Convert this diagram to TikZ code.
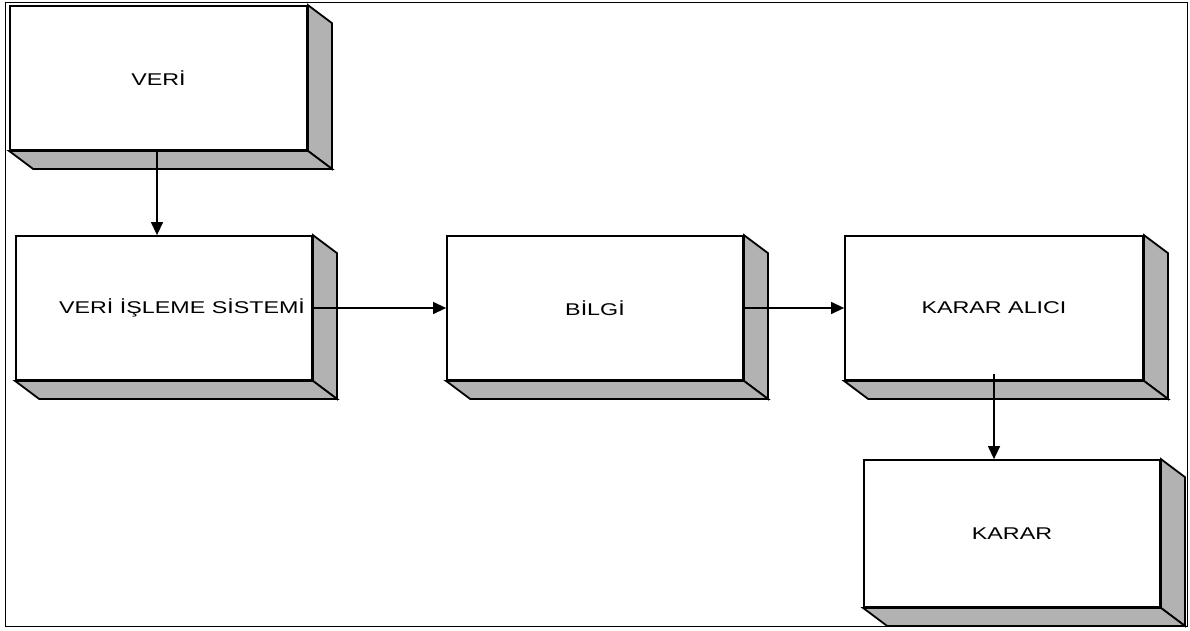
\documentclass[tikz,border=0pt]{standalone}
\usepackage{fontspec}
\setmainfont{Liberation Sans}
\newfontfamily\kutufont[FakeStretch=1.37]{Liberation Sans}
\usetikzlibrary{arrows.meta}

\tikzset{
    kutu/.style={rectangle, draw, line width=1.8pt, fill=white, minimum width=296pt, minimum height=144pt, inner sep=0pt, font=\kutufont\fontsize{17}{20}\selectfont},
    golge/.style={draw, line width=1.8pt, fill=black!30, line join=miter},
    ok/.style={-{Triangle[length=13pt,width=12pt]}, line width=1.3pt}
}

\begin{document}
\begin{tikzpicture}[x=1pt, y=-1pt]

\useasboundingbox (0,0) rectangle (1190,630);

% Frame
\draw[line width=0.8pt] (5,2) rectangle (1187,626);

% Boxes
\node[kutu, minimum width=297pt] (veri) at (158.5, 78) {VERİ};
\node[kutu] (isleme) at (164, 308) {\hspace*{36pt}VERİ İŞLEME SİSTEMİ};
\node[kutu] (bilgi) at (595, 308) {BİLGİ};
\node[kutu, minimum width=298pt] (alici) at (994, 308) {KARAR ALICI};
\node[kutu, minimum height=147pt] (karar) at (1012, 533.5) {KARAR};

% Depth faces
\foreach \k in {veri, isleme, bilgi, alici, karar} {
    \draw[golge] (\k.north east) -- ++(24,18) -- ([shift={(24,18)}]\k.south east) -- (\k.south east) -- cycle;
    \draw[golge] (\k.south west) -- ++(24,18) -- ([shift={(24,18)}]\k.south east) -- (\k.south east) -- cycle;
}

% Arrows
\draw[ok] ([xshift=-1.5pt]veri.south) -- ([xshift=-1.5pt]veri.south |- isleme.north);
\draw[ok] (isleme.east) -- (bilgi.west);
\draw[ok] (bilgi.east) -- (alici.west);
\draw[ok] ([yshift=7pt]alici.south) -- (alici.south |- karar.north);

\end{tikzpicture}
\end{document}
